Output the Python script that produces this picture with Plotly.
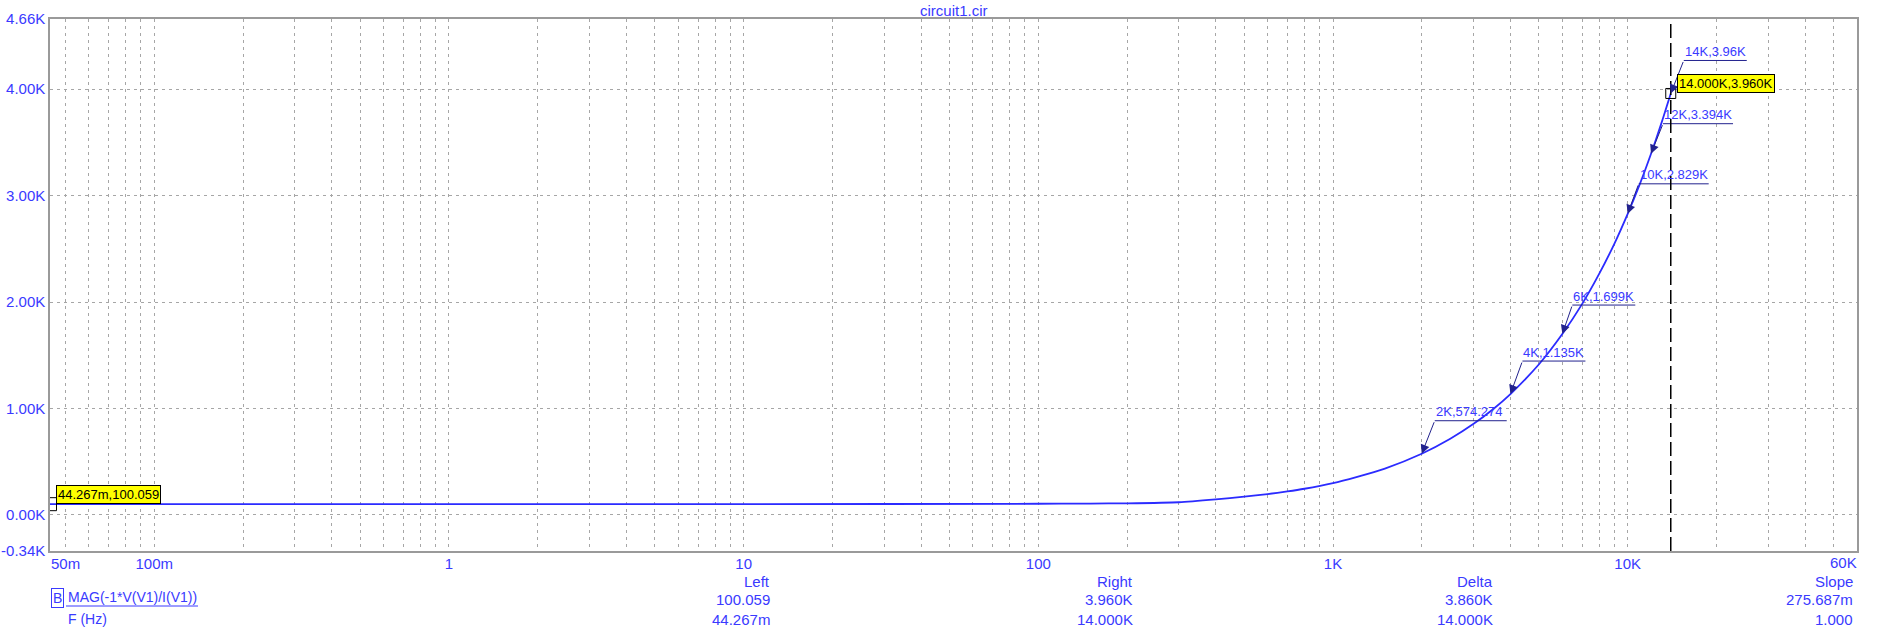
import math
import plotly.graph_objects as go

# ---- data ----
freq_hz = [0.044267, 0.1, 1, 10, 100, 150, 200, 300, 400, 500, 600, 700, 800,
           1000, 1200, 1500, 2000, 2500, 3000, 3500, 4000, 5000, 6000, 7000,
           8000, 9000, 10000, 11000, 12000, 13000, 14000]
mag_ohm = [100.059, 100.06, 100.06, 100.1, 104.0, 106.0, 108.0, 118.0, 145.0,
           171.0, 195.0, 220.0, 245.0, 298.0, 355.0, 435.0, 574.274, 715.0,
           855.0, 995.0, 1135.0, 1415.0, 1699.0, 1980.0, 2264.0, 2545.0,
           2829.0, 3110.0, 3394.0, 3677.0, 3960.0]

label_f = [2000, 4000, 6000, 10000, 12000, 14000]
label_z = [574.274, 1135.0, 1699.0, 2829.0, 3394.0, 3960.0]
label_txt = ["2K,574.274", "4K,1.135K", "6K,1.699K", "10K,2.829K", "12K,3.394K", "14K,3.96K"]

cursor_left = (0.044267, 100.059, "44.267m,100.059")
cursor_right = (14000, 3960.0, "14.000K,3.960K")

x_min, x_max = 0.044267, 60000
x_tick_vals = [0.05, 0.1, 1, 10, 100, 1000, 10000]
x_tick_text = ["50m", "100m", "1", "10", "100", "1K", "10K"]
x_end_label = "60K"
y_tick_vals = [-340, 0, 1000, 2000, 3000, 4000, 4660]
y_tick_text = ["-0.34K", "0.00K", "1.00K", "2.00K", "3.00K", "4.00K", "4.66K"]

table_heads = ["Left", "Right", "Delta", "Slope"]
table_row1 = ["100.059", "3.960K", "3.860K", "275.687m"]
table_row2 = ["44.267m", "14.000K", "14.000K", "1.000"]
trace_name = "MAG(-1*V(V1)/I(V1))"
x_name = "F (Hz)"
title = "circuit1.cir"

# ---- styling ----
FONT = "Liberation Sans, Arial, sans-serif"
BLUE_TXT = "#3a3aff"
NAVY = "#22228e"
GRID = "#a6a6a6"
W, H = 1883, 636
ML, MR, MT, MB = 50, 26, 19, 85
PW = W - ML - MR
PH = H - MT - MB
BOTTOM = MT + PH

# grid positions: 1..9 per decade within range
grid_vals = []
for e in range(-2, 5):
    for m in range(1, 10):
        v = m * 10 ** e
        if x_min <= v <= x_max * 1.0001:
            grid_vals.append(v)
tickvals = grid_vals
ticktext = []
for v in grid_vals:
    lab = ""
    for tv, tt in zip(x_tick_vals, x_tick_text):
        if abs(math.log10(v) - math.log10(tv)) < 1e-6:
            lab = tt
    ticktext.append(lab)

fig = go.Figure()
fig.add_trace(go.Scatter(x=freq_hz, y=mag_ohm, mode="lines",
                         line=dict(color="#2b2bff", width=1.8, shape="spline",
                                   smoothing=0.6),
                         hoverinfo="skip", showlegend=False))
fig.add_trace(go.Scatter(x=[cursor_right[0]], y=[cursor_right[1]], mode="markers",
                         marker=dict(symbol="square-open", size=10,
                                     color="black", line=dict(width=1)),
                         showlegend=False, hoverinfo="skip"))
fig.add_trace(go.Scatter(x=[cursor_left[0]], y=[cursor_left[1]], mode="markers",
                         marker=dict(symbol="square-open", size=13,
                                     color="black", line=dict(width=1)),
                         showlegend=False, hoverinfo="skip"))

annotations = []
shapes = []

# point labels with leader arrows and underline
offsets = [(13, 33, 72), (12, 33, 63), (10, 29, 63), (11, 30, 70), (12, 30, 70), (13, 33, 63)]
for f, z, t, (dx, dy, ln) in zip(label_f, label_z, label_txt, offsets):
    annotations.append(dict(x=math.log10(f), y=z, xref="x", yref="y", text="",
                            showarrow=True, ax=dx, ay=-dy, axref="pixel", ayref="pixel",
                            arrowhead=2, arrowsize=1.8, arrowwidth=1, arrowcolor=NAVY,
                            standoff=0, startstandoff=0))
    annotations.append(dict(x=math.log10(f), y=z, xref="x", yref="y", text=t,
                            showarrow=False, xanchor="left", yanchor="middle",
                            xshift=dx - 1, yshift=dy + 9,
                            font=dict(family=FONT, size=13, color=BLUE_TXT)))
    shapes.append(dict(type="line", xref="x", yref="y", xsizemode="pixel",
                       ysizemode="pixel", xanchor=f, yanchor=z,
                       x0=dx, x1=dx + ln, y0=dy, y1=dy,
                       line=dict(color=NAVY, width=1)))

# yellow cursor value boxes
for (cf, cz, ct) in [cursor_left, cursor_right]:
    annotations.append(dict(x=math.log10(cf), y=cz, xref="x", yref="y", text=ct,
                            showarrow=False, xanchor="left", yanchor="bottom",
                            xshift=6, yshift=0, bgcolor="#ffff00",
                            bordercolor="black", borderwidth=1, borderpad=1,
                            font=dict(family=FONT, size=13, color="black")))

# vertical cursor line
shapes.append(dict(type="line", xref="x", yref="paper", x0=cursor_right[0],
                   x1=cursor_right[0], y0=0, y1=1,
                   line=dict(color="black", width=1.5, dash="14px,5px")))

# title
annotations.append(dict(x=0.5, y=1, xref="paper", yref="paper", text=title,
                        showarrow=False, xanchor="center", yanchor="bottom",
                        yshift=-1, borderpad=0,
                        font=dict(family=FONT, size=15, color=BLUE_TXT)))

def px_x(px):
    return (px - ML) / PW

def txt(px, py, s, anchor="right", size=15, **kw):
    annotations.append(dict(x=px_x(px), y=0, xref="paper", yref="paper", text=s,
                            showarrow=False, xanchor=anchor, yanchor="middle",
                            yshift=-(py - BOTTOM),
                            font=dict(family=FONT, size=size, color=BLUE_TXT), **kw))

# right end label of the x axis (sits flush with the plot edge)
annotations.append(dict(x=1, y=0, xref="paper", yref="paper", text=x_end_label,
                        showarrow=False, xanchor="right", yanchor="middle",
                        xshift=2, yshift=-(562 - BOTTOM),
                        font=dict(family=FONT, size=15, color=BLUE_TXT)))

col_right = [772, 1135, 1495, 1855]
for cx, h, r1, r2 in zip(col_right, table_heads, table_row1, table_row2):
    txt(cx, 581, h)
    txt(cx, 599.5, r1)
    txt(cx, 619, r2)

txt(57, 598, "B", anchor="center", size=14, bordercolor=BLUE_TXT, borderwidth=1,
    borderpad=1)
txt(66, 597, trace_name, anchor="left", size=14)
txt(66, 619, x_name, anchor="left", size=14)
uy = -(606 - BOTTOM) / PH
shapes.append(dict(type="line", xref="paper", yref="paper",
                   x0=px_x(66), x1=px_x(198), y0=uy, y1=uy,
                   line=dict(color=BLUE_TXT, width=1)))

fig.update_layout(
    width=W, height=H, autosize=False,
    margin=dict(l=ML, r=MR, t=MT, b=MB, pad=0, autoexpand=False),
    paper_bgcolor="white", plot_bgcolor="white",
    showlegend=False,
    annotations=annotations, shapes=shapes,
    xaxis=dict(type="log", range=[math.log10(x_min), math.log10(x_max)],
               tickmode="array", tickvals=tickvals, ticktext=ticktext,
               showgrid=True, gridcolor=GRID, griddash="3px,4px", gridwidth=1,
               showline=True, mirror=True, linecolor="#9a9a9a", linewidth=1.5,
               ticks="", zeroline=False, automargin=False, ticklabelstandoff=-2,
               tickfont=dict(family=FONT, size=15, color=BLUE_TXT)),
    yaxis=dict(range=[-340, 4660], tickmode="array", tickvals=y_tick_vals,
               ticktext=y_tick_text, showgrid=True, gridcolor=GRID,
               griddash="3px,4px", gridwidth=1, showline=True, mirror=True,
               linecolor="#9a9a9a", linewidth=1.5, ticks="", zeroline=False,
               automargin=False, ticklabelstandoff=0,
               tickfont=dict(family=FONT, size=15, color=BLUE_TXT)),
)

fig.write_html("out.html",
               config={"displayModeBar": False},
               post_script="document.body.style.margin='0';document.body.style.overflow='hidden';")
